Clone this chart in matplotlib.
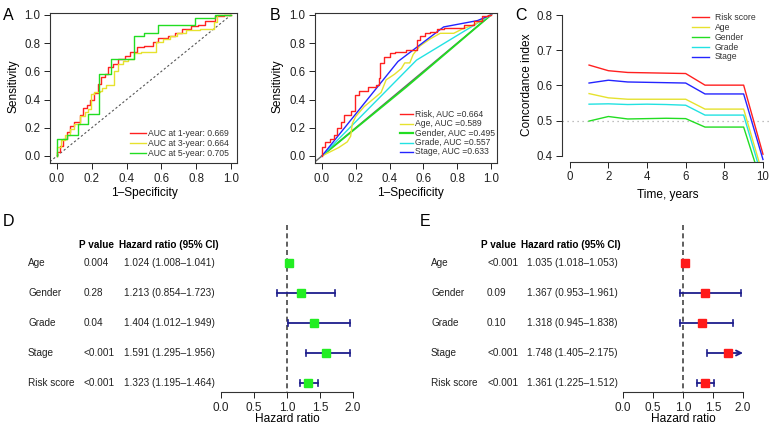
import numpy as np
import matplotlib
matplotlib.use('Agg')
import matplotlib.pyplot as plt
from matplotlib.lines import Line2D
from matplotlib import transforms

plt.rcParams['font.family'] = ['Liberation Sans', 'DejaVu Sans']

# ---- data ----
# Panel A: time-dependent ROC of the risk score
a1_fpr = [0, 0.015, 0.035, 0.055, 0.075, 0.10, 0.13, 0.15, 0.175, 0.19, 0.215, 0.235, 0.255, 0.275, 0.295,
          0.32, 0.35, 0.39, 0.42, 0.46, 0.50, 0.55, 0.58, 0.64, 0.68, 0.72, 0.77, 0.81, 0.85, 0.91, 0.96, 1.0]
a1_tpr = [0, 0.03, 0.07, 0.12, 0.17, 0.21, 0.24, 0.29, 0.34, 0.36, 0.40, 0.45, 0.51, 0.56, 0.58,
          0.63, 0.65, 0.69, 0.71, 0.74, 0.77, 0.78, 0.81, 0.84, 0.85, 0.87, 0.90, 0.92, 0.93, 0.96, 0.99, 1.0]
a3_fpr = [0, 0.025, 0.045, 0.075, 0.10, 0.13, 0.16, 0.18, 0.195, 0.215, 0.245, 0.26, 0.28, 0.31, 0.33,
          0.35, 0.38, 0.41, 0.44, 0.48, 0.55, 0.57, 0.61, 0.65, 0.69, 0.74, 0.82, 0.90, 0.92, 1.0]
a3_tpr = [0, 0.06, 0.11, 0.15, 0.19, 0.23, 0.28, 0.31, 0.33, 0.44, 0.455, 0.46, 0.48, 0.50, 0.50,
          0.60, 0.65, 0.67, 0.69, 0.73, 0.74, 0.74, 0.81, 0.83, 0.85, 0.87, 0.89, 0.90, 0.95, 1.0]
a5_fpr = [0, 0.06, 0.12, 0.18, 0.24, 0.31, 0.44, 0.50, 0.58, 0.79, 0.91, 1.0]
a5_tpr = [0, 0.12, 0.15, 0.23, 0.30, 0.58, 0.69, 0.85, 0.87, 0.93, 0.98, 1.0]
a_labels = ['AUC at 1-year: 0.669', 'AUC at 3-year: 0.664', 'AUC at 5-year: 0.705']

# Panel B: ROC of risk score and clinical variables
b_risk_fpr = [0, 0.02, 0.045, 0.07, 0.09, 0.11, 0.13, 0.17, 0.195, 0.22, 0.27, 0.32, 0.335, 0.345, 0.365,
              0.40, 0.43, 0.50, 0.56, 0.58, 0.61, 0.64, 0.68, 0.72, 0.84, 0.90, 0.95, 0.98, 1.0]
b_risk_tpr = [0, 0.06, 0.10, 0.12, 0.15, 0.20, 0.24, 0.29, 0.32, 0.43, 0.46, 0.49, 0.50, 0.55, 0.66,
              0.70, 0.73, 0.74, 0.75, 0.82, 0.85, 0.87, 0.88, 0.90, 0.91, 0.93, 0.96, 0.99, 1.0]
b_age_fpr = [0, 0.05, 0.10, 0.15, 0.17, 0.18, 0.20, 0.25, 0.30, 0.35, 0.38, 0.43, 0.47, 0.49, 0.52,
             0.54, 0.58, 0.64, 0.70, 0.78, 0.83, 0.90, 0.95, 1.0]
b_age_tpr = [0, 0.03, 0.06, 0.10, 0.14, 0.23, 0.28, 0.35, 0.40, 0.45, 0.54, 0.58, 0.62, 0.66, 0.66,
             0.72, 0.78, 0.83, 0.87, 0.87, 0.90, 0.93, 0.97, 1.0]
b_gender_fpr = [0, 0.50, 1.0]
b_gender_tpr = [0, 0.49, 1.0]
b_grade_fpr = [0, 0.56, 1.0]
b_grade_tpr = [0, 0.68, 1.0]
b_stage_fpr = [0, 0.45, 0.72, 0.92, 1.0]
b_stage_tpr = [0, 0.67, 0.915, 0.96, 1.0]
b_labels = ['Risk, AUC =0.664', 'Age, AUC =0.589', 'Gender, AUC =0.495', 'Grade, AUC =0.557', 'Stage, AUC =0.633']

# Panel C: concordance index over time
c_time = [1, 2, 3, 4, 5, 6, 7, 8, 9, 10]
c_risk = [0.658, 0.642, 0.637, 0.636, 0.635, 0.634, 0.601, 0.601, 0.601, 0.405]
c_age = [0.577, 0.565, 0.561, 0.561, 0.561, 0.561, 0.533, 0.533, 0.533, 0.345]
c_gender = [0.499, 0.512, 0.505, 0.506, 0.507, 0.506, 0.482, 0.482, 0.482, 0.31]
c_grade = [0.547, 0.548, 0.546, 0.547, 0.546, 0.544, 0.516, 0.516, 0.516, 0.33]
c_stage = [0.607, 0.615, 0.610, 0.609, 0.608, 0.607, 0.576, 0.576, 0.576, 0.39]
c_labels = ['Risk score', 'Age', 'Gender', 'Grade', 'Stage']

# Panels D/E: univariate and multivariate Cox regression
cox_vars = ['Age', 'Gender', 'Grade', 'Stage', 'Risk score']
d_p = ['0.004', '0.28', '0.04', '<0.001', '<0.001']
d_hr = [1.024, 1.213, 1.404, 1.591, 1.323]
d_lo = [1.008, 0.854, 1.012, 1.295, 1.195]
d_hi = [1.041, 1.723, 1.949, 1.956, 1.464]
e_p = ['<0.001', '0.09', '0.10', '<0.001', '<0.001']
e_hr = [1.035, 1.367, 1.318, 1.748, 1.361]
e_lo = [1.018, 0.953, 0.945, 1.405, 1.225]
e_hi = [1.053, 1.961, 1.838, 2.175, 1.512]

RED, YEL, GRN, CYN, BLU = '#ff2020', '#e6e22e', '#22dd22', '#22e2e2', '#2424ff'
BAR = '#1e1e8c'

W, H = 771, 428
fig = plt.figure(figsize=(W / 100, H / 100), dpi=100)


def box(l, t, r, b):
    return [l / W, 1 - b / H, (r - l) / W, (b - t) / H]


def ftext(x, y, s, **kw):
    fig.text(x / W, 1 - y / H, s, **kw)


def legend_rows(x0, x1, xt, ys, colors, labels, lws=None):
    for i, (y, c, lab) in enumerate(zip(ys, colors, labels)):
        lw = lws[i] if lws else 1.0
        fig.add_artist(Line2D([x0 / W, x1 / W], [1 - y / H, 1 - y / H], color=c, lw=lw))
        ftext(xt, y, lab, fontsize=6.2, va='center', ha='left', color='#333333')


def style_roc(ax):
    ax.set_xticks([0, 0.2, 0.4, 0.6, 0.8, 1.0])
    ax.set_yticks([0, 0.2, 0.4, 0.6, 0.8, 1.0])
    ax.xaxis.set_major_formatter(plt.FormatStrFormatter('%.1f'))
    ax.yaxis.set_major_formatter(plt.FormatStrFormatter('%.1f'))
    ax.tick_params(direction='out', length=4, width=0.7, labelsize=8.3, pad=3, colors='#222222')
    for s in ax.spines.values():
        s.set_linewidth(0.8)
        s.set_color('#333333')


# ---- Panel A ----
axA = fig.add_axes(box(50, 13, 237, 163))
axA.plot([-0.1, 1.1], [-0.1, 1.1], color='#555555', lw=0.8, ls=(0, (2, 2)))
axA.plot(a1_fpr, a1_tpr, drawstyle='steps-pre', color=RED, lw=1.0)
axA.plot(a3_fpr, a3_tpr, drawstyle='steps-pre', color=YEL, lw=1.0)
axA.plot(a5_fpr, a5_tpr, drawstyle='steps-pre', color=GRN, lw=1.0)
axA.set_xlim(-0.04, 1.034)
axA.set_ylim(-0.05, 1.014)
style_roc(axA)
legend_rows(130, 146, 148, [133, 143, 153], [RED, YEL, GRN], a_labels)
ftext(13, 86, 'Sensitivity', rotation=90, ha='center', va='center', fontsize=8.6)
ftext(144, 193, '1–Specificity', ha='center', va='center', fontsize=8.6)
ftext(3, 8, 'A', fontsize=11.5, va='top', ha='left')

# ---- Panel B ----
axB = fig.add_axes(box(315, 13, 497, 163))
axB.plot([-0.1, 1.1], [-0.1, 1.1], color='#666666', lw=1.0)
axB.plot(b_gender_fpr, b_gender_tpr, color=GRN, lw=1.3)
axB.plot(b_grade_fpr, b_grade_tpr, color=CYN, lw=1.0)
axB.plot(b_age_fpr, b_age_tpr, color=YEL, lw=1.0)
axB.plot(b_stage_fpr, b_stage_tpr, color=BLU, lw=1.0)
axB.plot(b_risk_fpr, b_risk_tpr, drawstyle='steps-pre', color=RED, lw=1.0)
axB.set_xlim(-0.041, 1.036)
axB.set_ylim(-0.05, 1.014)
style_roc(axB)
legend_rows(400, 413, 415, [114, 123.5, 133, 142.5, 152], [RED, YEL, GRN, CYN, BLU], b_labels,
            lws=[1.0, 1.0, 1.6, 1.0, 1.0])
ftext(278, 86, 'Sensitivity', rotation=90, ha='center', va='center', fontsize=8.6)
ftext(410, 193, '1–Specificity', ha='center', va='center', fontsize=8.6)
ftext(270, 8, 'B', fontsize=11.5, va='top', ha='left')

# ---- Panel C ----
axC = fig.add_axes(box(562, 9.4, 770.7, 161.6))
axC.axhline(0.5, color='#aaaaaa', lw=0.9, ls=(0, (1, 3)))
for vals, c in zip([c_risk, c_age, c_gender, c_grade, c_stage], [RED, YEL, GRN, CYN, BLU]):
    axC.plot(c_time, vals, color=c, lw=1.0)
axC.set_xlim(-0.4, 10.4)
axC.set_ylim(0.384, 0.816)
axC.set_xticks(range(0, 11, 2))
axC.set_yticks([0.4, 0.5, 0.6, 0.7, 0.8])
axC.yaxis.set_major_formatter(plt.FormatStrFormatter('%.1f'))
axC.spines['top'].set_visible(False)
axC.spines['right'].set_visible(False)
axC.spines['left'].set_bounds(0.4, 0.8)
axC.spines['bottom'].set_bounds(0, 10)
for s in ['left', 'bottom']:
    axC.spines[s].set_linewidth(0.8)
    axC.spines[s].set_color('#333333')
axC.tick_params(direction='out', length=4, width=0.7, labelsize=8.3, pad=3, colors='#222222')
legend_rows(692, 709, 715, [17, 27, 37, 47, 57], [RED, YEL, GRN, CYN, BLU], c_labels)
ftext(527, 85, 'Concordance index', rotation=90, ha='center', va='center', fontsize=8.6)
ftext(668, 195, 'Time, years', ha='center', va='center', fontsize=8.6)
ftext(515, 8, 'C', fontsize=11.5, va='top', ha='left')


# ---- Panels D and E: forest plots ----
def forest(ax_box, hr, lo, hi, pvals, color, x_lab, x_p, x_hr, x_hp, x_hh, letter, letter_x):
    ax = fig.add_axes(box(*ax_box))
    rows = np.arange(len(cox_vars))
    ax.set_xlim(0, 2)
    ax.set_ylim(4.3, -1.267)
    ax.plot([1, 1], [-1.267, 4.3], color='#444444', lw=1.2, ls=(0, (3, 2)))
    for i in rows:
        top = min(hi[i], 2.0)
        ax.plot([lo[i], lo[i]], [i - 0.1, i + 0.1], color=BAR, lw=1.2, clip_on=False)
        if hi[i] > 2.0:
            ax.annotate('', xy=(top, i), xytext=(lo[i], i),
                        arrowprops=dict(arrowstyle='->', color=BAR, lw=1.3, mutation_scale=9,
                                        shrinkA=0, shrinkB=0), annotation_clip=False)
        else:
            ax.plot([lo[i], top], [i, i], color=BAR, lw=1.3, clip_on=False)
            ax.plot([top, top], [i - 0.1, i + 0.1], color=BAR, lw=1.2, clip_on=False)
    ax.plot(hr, rows, ls='none', marker='s', ms=5.3, color=color, mec=color, clip_on=False, zorder=5)
    for s in ['top', 'right', 'left']:
        ax.spines[s].set_visible(False)
    ax.spines['bottom'].set_linewidth(0.8)
    ax.spines['bottom'].set_color('#333333')
    ax.set_yticks([])
    ax.set_xticks([0, 0.5, 1.0, 1.5, 2.0])
    ax.xaxis.set_major_formatter(plt.FormatStrFormatter('%.1f'))
    ax.tick_params(axis='x', direction='out', length=4, width=0.7, labelsize=8.5, pad=3, colors='#222222')
    l, r = ax_box[0], ax_box[2]
    ftext((l + r) / 2, 419, 'Hazard ratio', ha='center', va='center', fontsize=8.6)

    tr = transforms.blended_transform_factory(fig.transFigure, ax.transData)
    ax.text(x_hp / W, -0.6, 'P value', transform=tr, fontsize=7.2, fontweight='bold', va='center')
    ax.text(x_hh / W, -0.6, 'Hazard ratio (95% CI)', transform=tr, fontsize=7.2, fontweight='bold', va='center')
    for i in rows:
        ax.text(x_lab / W, i, cox_vars[i], transform=tr, fontsize=7.2, va='center', color='#222222')
        ax.text(x_p / W, i, pvals[i], transform=tr, fontsize=7.2, va='center', color='#222222')
        ax.text(x_hr / W, i, f'{hr[i]:.3f} ({lo[i]:.3f}–{hi[i]:.3f})', transform=tr,
                fontsize=7.2, va='center', color='#222222')
    ftext(letter_x, 214, letter, fontsize=11.5, va='top', ha='left')


forest((221, 225, 353, 392), d_hr, d_lo, d_hi, d_p, '#22ee22', 28, 84, 124, 79, 119, 'D', 3)
forest((623, 225, 743, 392), e_hr, e_lo, e_hi, e_p, '#ff1a1a', 431, 487, 527, 481, 521, 'E', 420)

fig.savefig('out.png', dpi=100)
